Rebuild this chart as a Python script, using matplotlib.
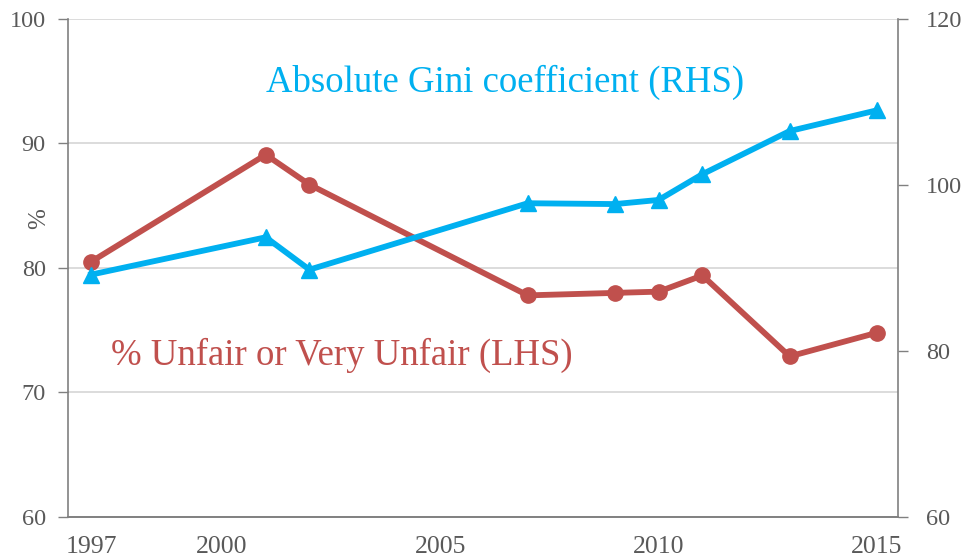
import matplotlib
matplotlib.use("Agg")
import matplotlib.pyplot as plt

# Survey years and values
years = [1997, 2001, 2002, 2007, 2009, 2010, 2011, 2013, 2015]
unfair_pct = [80.5, 89.1, 86.7, 77.8, 78.0, 78.1, 79.4, 72.9, 74.8]   # LHS
abs_gini = [89.2, 93.7, 89.8, 97.8, 97.7, 98.2, 101.3, 106.5, 109.0]  # RHS

xticks = [1997, 2000, 2005, 2010, 2015]
left_ticks = [60, 70, 80, 90, 100]
right_ticks = [60, 80, 100, 120]

red = "#C0504D"
blue = "#00B0F0"
grey = "#808080"
txt = "#595959"

plt.rcParams['font.family'] = ['Liberation Serif', 'DejaVu Serif']

fig = plt.figure(figsize=(9.64, 5.6), dpi=100)
ax = fig.add_axes([0.0705, 0.0768, 0.861, 0.8893])
ax2 = ax.twinx()

ax.plot(years, unfair_pct, color=red, lw=4.2, marker="o", markersize=11, zorder=3)
ax2.plot(years, abs_gini, color=blue, lw=4.2, marker="^", markersize=11, zorder=3)

ax.set_xlim(1996.47, 2015.48)
ax.set_ylim(60, 100)
ax2.set_ylim(60, 120)
ax.set_xticks(xticks)
ax.set_yticks(left_ticks)
ax2.set_yticks(right_ticks)

ax.grid(axis="y", color="#D9D9D9", lw=1.3)
ax.set_axisbelow(True)

for a in (ax, ax2):
    a.spines["top"].set_visible(False)
    for s in ("left", "right", "bottom"):
        a.spines[s].set_color(grey)
        a.spines[s].set_linewidth(1.2)
    a.tick_params(axis="y", colors=grey, labelcolor=txt, labelsize=17.5, length=7, width=1)
ax.tick_params(axis="y", pad=9)
ax2.tick_params(axis="y", pad=13)
ax.tick_params(axis="x", length=0, labelcolor=txt, labelsize=18.5, pad=14)
ax2.spines["left"].set_visible(False)
ax.spines["right"].set_visible(False)

ax.set_ylabel("%", color=txt, fontsize=18)
ax.yaxis.set_label_coords(-0.022, 0.6)

ax.text(0.5265, 0.873, "Absolute Gini coefficient (RHS)", transform=ax.transAxes,
        ha="center", va="center", color=blue, fontsize=26.5)
ax.text(0.330, 0.325, "% Unfair or Very Unfair (LHS)", transform=ax.transAxes,
        ha="center", va="center", color=red, fontsize=26.5)

fig.savefig("out.png", dpi=100)
